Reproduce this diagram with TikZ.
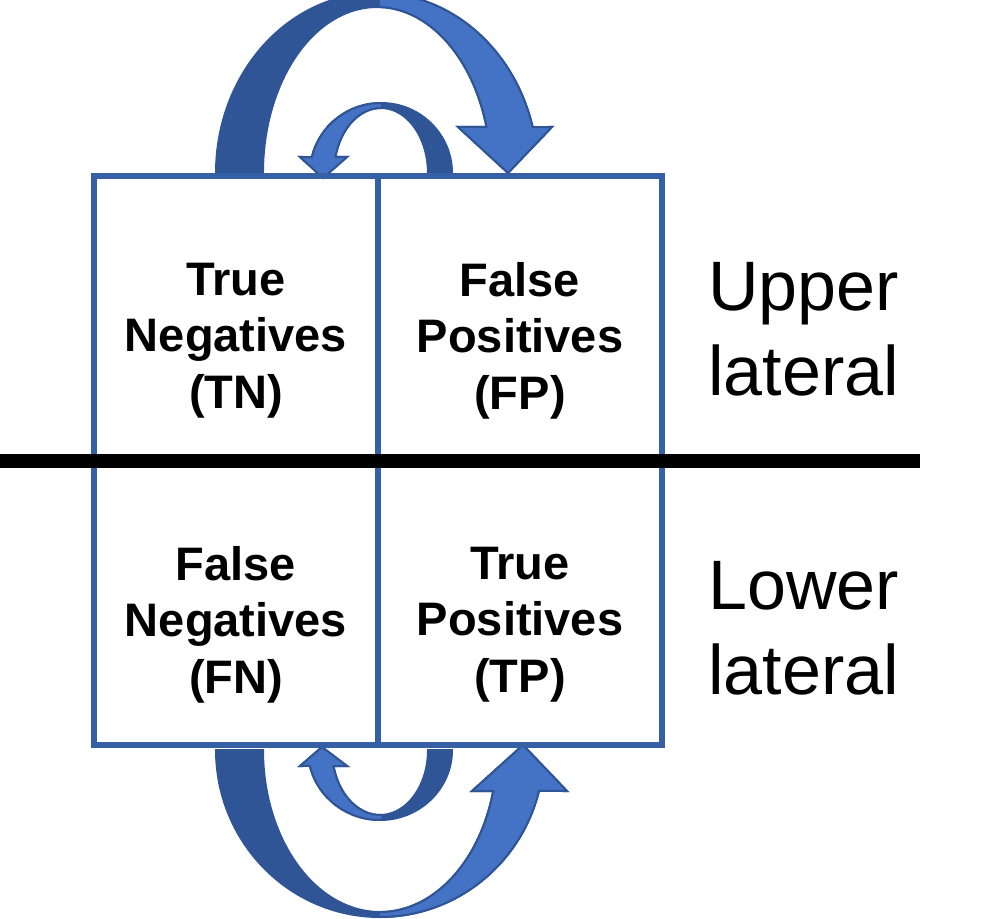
\documentclass[tikz,border=0pt]{standalone}
\usepackage{fontspec}
\setmainfont{Liberation Sans}
\usetikzlibrary{positioning}

\definecolor{arrowdark}{HTML}{2F5597}
\definecolor{arrowlight}{HTML}{4472C4}
\definecolor{cellblue}{HTML}{3560A6}

% block arrow outlines, in pixel units
\newcommand{\bigupper}{(216,173) arc[start angle=180, end angle=345.2, x radius=161, y radius=180] -- (552,127) -- (508,173) -- (458,127) -- (486.5,127) arc[start angle=343.9, end angle=180, x radius=114, y radius=166] -- cycle}
\newcommand{\smallupper}{(452,173) arc[start angle=360, end angle=193.2, x radius=71, y radius=70] -- (300,157) -- (323,178) -- (347,157) -- (335.4,157) arc[start angle=194.25, end angle=360, x radius=47, y radius=65] -- cycle}
\newcommand{\biglower}{(216,750) arc[start angle=180, end angle=14.2, x radius=164, y radius=167] -- (567,791) -- (523,745) -- (472,791) -- (493.2,791) arc[start angle=14.66, end angle=180, x radius=117, y radius=162] -- cycle}
\newcommand{\smalllower}{(452,750) arc[start angle=0, end angle=166.8, x radius=72, y radius=70] -- (300,766) -- (322,747) -- (347,766) -- (333.5,766) arc[start angle=165.75, end angle=0, x radius=48, y radius=65] -- cycle}

\begin{document}
\begin{tikzpicture}[x=0.5pt,y=-0.5pt,
    arrowback/.style={fill=arrowdark,draw=arrowdark,line width=1pt},
    arrowfront/.style={fill=arrowlight,draw=arrowdark,line width=1pt},
    cell/.style={draw=cellblue,line width=3pt,minimum width=142pt,minimum height=142pt,inner sep=0pt,outer sep=0pt},
    celltext/.style={font=\fontsize{23.5pt}{28.25pt}\selectfont\bfseries,align=center},
    sidetext/.style={font=\fontsize{35pt}{42.5pt}\selectfont,align=left,anchor=base west,inner sep=0pt},
    divider/.style={line width=7pt,black}]

  \path[fill=white,use as bounding box] (0,0) rectangle (990,919);

  % arrows behind the cells
  \fill[arrowback] \bigupper;
  \fill[arrowback] \smallupper;
  \fill[arrowback] \biglower;
  \fill[arrowback] \smalllower;
  \begin{scope}
    \clip (380,-20) rectangle (1000,940);
    \fill[arrowfront] \bigupper;
    \fill[arrowfront] \biglower;
  \end{scope}
  \begin{scope}
    \clip (-10,-20) rectangle (381,940);
    \fill[arrowfront] \smallupper;
    \fill[arrowfront] \smalllower;
  \end{scope}

  \node[cell] (tn) at (236,318.5) {};
  \node[cell] (fp) [right=0pt of tn] {};
  \node[cell] (fn) [below=0pt of tn] {};
  \node[cell] (tp) [right=0pt of fn] {};

  \node[celltext] (tn text) at ([yshift=-11pt]tn.center) {True\\Negatives\\(TN)};
  \node[celltext] (fp text) at ([yshift=-11pt]fp.center) {False\\Positives\\(FP)};
  \node[celltext] (fn text) at ([yshift=-11pt]fn.center) {False\\Negatives\\(FN)};
  \node[celltext] (tp text) at ([yshift=-11pt]tp.center) {True\\Positives\\(TP)};

  \coordinate (split west) at (0,460.5);
  \coordinate (split east) at (920,460.5);
  \draw[divider] (split west) -- (split east);

  \node[sidetext] (upper) at (708,395) {Upper\\lateral};
  \node[sidetext] (lower) at (708,694) {Lower\\lateral};

\end{tikzpicture}
\end{document}
